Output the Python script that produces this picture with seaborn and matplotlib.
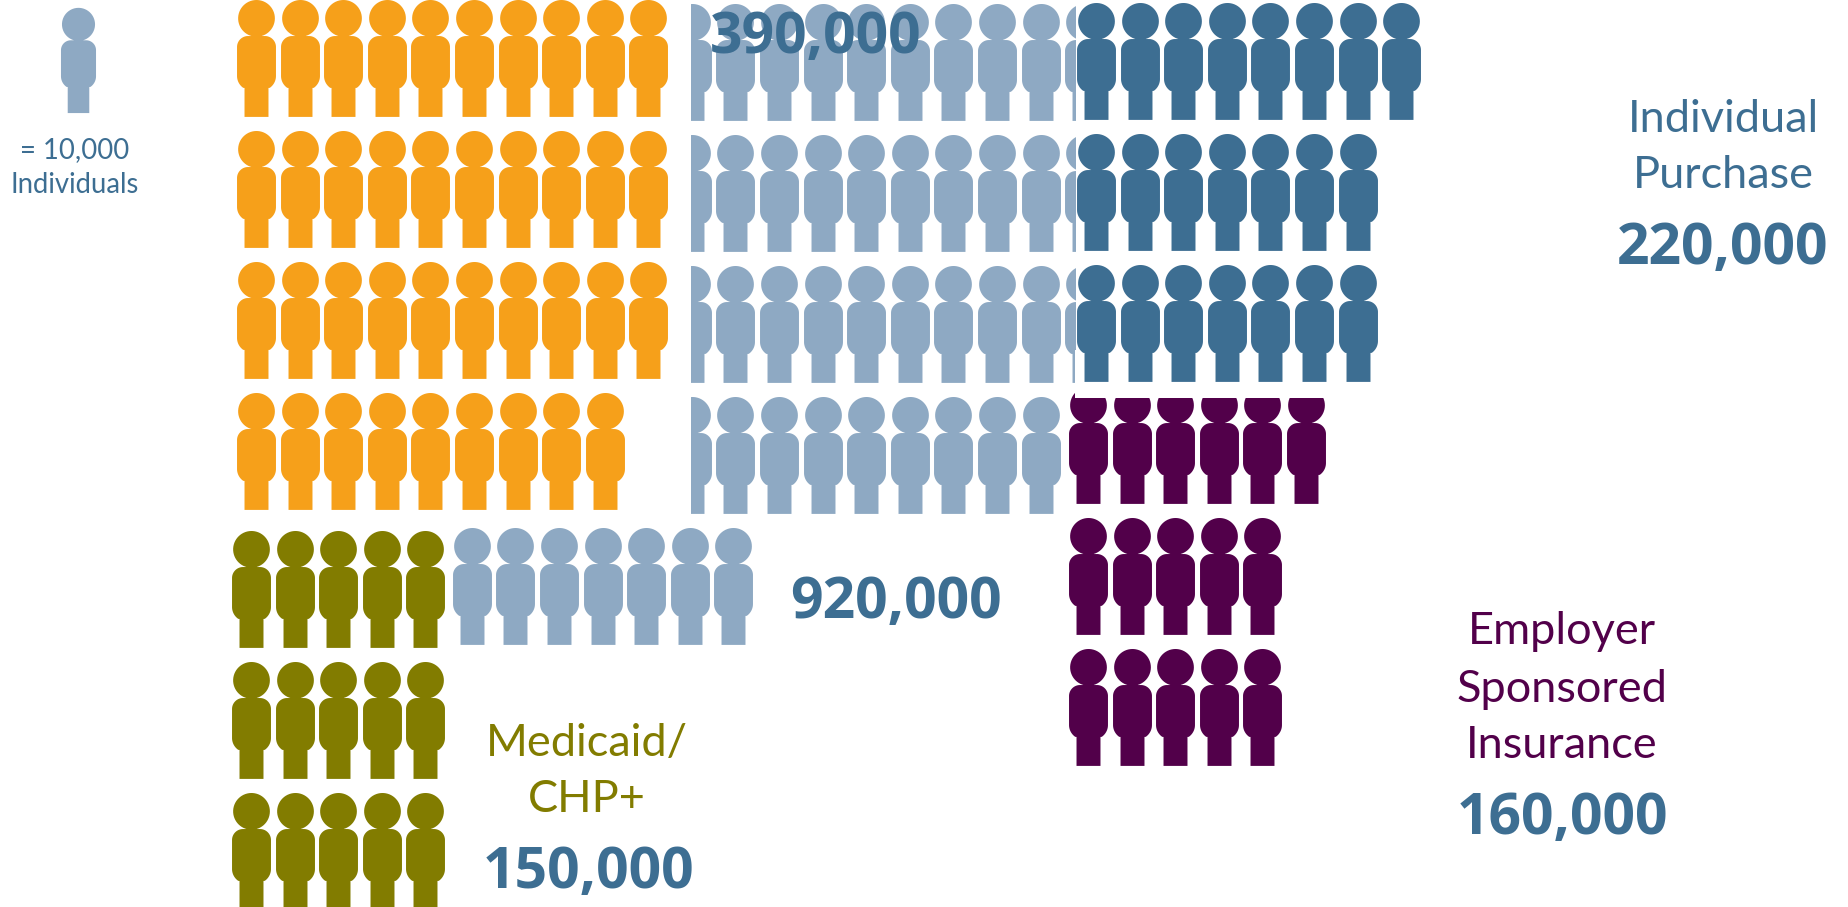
import numpy as np
import pandas as pd
import matplotlib
matplotlib.use('Agg')
import matplotlib.pyplot as plt
from matplotlib.path import Path
from matplotlib.patches import Rectangle
import seaborn as sns

# People per row of each block (1 person = 10,000 individuals)
orange_rows = [10, 10, 10, 9]
light_top_rows = [10, 10, 10, 9]
light_low_rows = [7]
dark_rows = [8, 7, 7]
purple_rows = [6, 5, 5]
olive_rows = [5, 5, 5]

big_labels = ['390,000', '920,000', '220,000', '160,000', '150,000']
individual_lines = ['Individual', 'Purchase']
employer_lines = ['Employer', 'Sponsored', 'Insurance']
medicaid_lines = ['Medicaid/', 'CHP+']
key_lines = ['= 10,000', 'Individuals']

ORANGE = '#F6A01A'
LIGHT = '#8EA9C3'
DARK = '#3D6E92'
PURPLE = '#52004A'
OLIVE = '#827C00'

COL_STEP = 43.6
ROW_STEP = 131
PERSON_H = 117


def arc(cx, cy, r, a0, a1, n=24):
    t = np.radians(np.linspace(a0, a1, n))
    return np.column_stack([cx + r * np.cos(t), cy + r * np.sin(t)])


def person_marker():
    # outline in pixels, y down from top of the head, then centred for scatter
    head = arc(0, 18.3, 18.4, 0, 360, 60)
    body = np.vstack([
        arc(-8.5, 47, 11, 180, 270),
        arc(8.5, 47, 11, 270, 360),
        arc(5, 76, 14.5, 0, 55),
        [[12, 88], [12, PERSON_H], [-12, PERSON_H], [-12, 88]],
        arc(-5, 76, 14.5, 125, 180),
    ])
    paths = []
    for pts in (head, body):
        pts = np.column_stack([pts[:, 0], PERSON_H / 2 - pts[:, 1]])
        paths.append(Path(np.vstack([pts, pts[:1]]), closed=True))
    return Path.make_compound_path(*paths)


def block(rows, x0, y0):
    # x0 = centre of first person, y0 = top of first head
    recs = []
    for r, n in enumerate(rows):
        for c in range(n):
            recs.append({'x': x0 + c * COL_STEP, 'y': y0 + r * ROW_STEP + PERSON_H / 2})
    return pd.DataFrame(recs)


sns.set_theme(style='white')
plt.rcParams['font.family'] = ['Lato', 'DejaVu Sans']

fig = plt.figure(figsize=(18.49, 9.07), dpi=100)
ax = fig.add_axes([0, 0, 1, 1])
ax.set_xlim(0, 1849)
ax.set_ylim(907, 0)
ax.axis('off')

marker = person_marker()
size = (PERSON_H * 0.72) ** 2


def draw(df, color, s=size):
    sns.scatterplot(data=df, x='x', y='y', ax=ax, marker=marker, s=s, color=color,
                    linewidth=0, legend=False, zorder=2)
    return ax.collections[-1]


draw(block(purple_rows, 1088, 386), PURPLE)
ax.add_patch(Rectangle((1075, 350), 250, 48, facecolor='white', edgecolor='none', zorder=3))

draw(block(orange_rows, 256, -1), ORANGE)
top = draw(block(light_top_rows, 691.7, 3), LIGHT)
top.set_clip_path(Rectangle((691, 0), 384, 520, transform=ax.transData))
draw(block(light_low_rows, 471.8, 527), LIGHT)
draw(block(dark_rows, 1096, 2), DARK).set_zorder(4)
draw(block(olive_rows, 251, 530), OLIVE)

# key person
draw(pd.DataFrame({'x': [78], 'y': [60]}), LIGHT, s=size * 0.81)

for txt, yy in zip(key_lines, [150, 185]):
    ax.text(75, yy, txt, color=DARK, fontsize=19.8, ha='center', va='center')

LABEL = 32.5
for txt, yy in zip(individual_lines, [120, 175]):
    ax.text(1723, yy, txt, color=DARK, fontsize=LABEL, ha='center', va='center')
for txt, yy in zip(employer_lines, [632, 690, 746]):
    ax.text(1562, yy, txt, color=PURPLE, fontsize=LABEL, ha='center', va='center')
for txt, yy in zip(medicaid_lines, [743, 799]):
    ax.text(587, yy, txt, color=OLIVE, fontsize=LABEL, ha='center', va='center')

big_pos = [(816, 38), (896, 603), (1723, 249), (1562, 819), (588, 873)]
for txt, (xx, yy) in zip(big_labels, big_pos):
    ax.text(xx, yy, txt, color=DARK, fontsize=41, fontweight='bold', family=['Open Sans', 'DejaVu Sans'],
            ha='center', va='center', zorder=5)

fig.savefig('out.png', dpi=100)
